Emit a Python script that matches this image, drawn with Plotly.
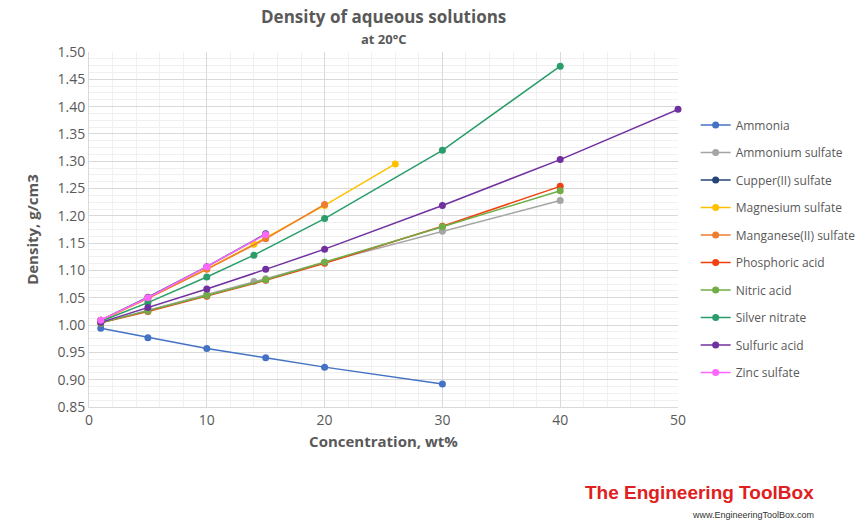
import plotly.graph_objects as go

names = ["Ammonia","Ammonium sulfate","Cupper(II) sulfate","Magnesium sulfate","Manganese(II) sulfate",
         "Phosphoric acid","Nitric acid","Silver nitrate","Sulfuric acid","Zinc sulfate"]
colors = ["#4472C4","#A5A5A5","#264478","#FFC000","#ED7D31","#F2400F","#70AD47","#2A9D6A","#7030A0","#FF66FF"]
xs = [
 [1,5,10,15,20,30],
 [1,5,10,14,15,20,30,40],
 [1,5,10,15],
 [1,5,10,14,20,26],
 [1,5,10,15,20],
 [1,5,10,15,20,30,40],
 [1,5,10,15,20,30,40],
 [1,5,10,14,20,30,40],
 [1,5,10,15,20,30,40,50],
 [1,5,10,15],
]
ys = [
 [0.994,0.977,0.957,0.940,0.923,0.892],
 [1.004,1.027,1.057,1.080,1.085,1.115,1.172,1.228],
 [1.009,1.051,1.107,1.167],
 [1.008,1.049,1.103,1.148,1.219,1.295],
 [1.009,1.049,1.102,1.158,1.221],
 [1.004,1.025,1.053,1.082,1.113,1.181,1.254],
 [1.004,1.026,1.054,1.083,1.115,1.180,1.246],
 [1.007,1.041,1.088,1.128,1.195,1.320,1.474],
 [1.005,1.032,1.066,1.102,1.139,1.219,1.303,1.395],
 [1.009,1.050,1.107,1.166],
]

fig = go.Figure()
for i,(n,c,x,y) in enumerate(zip(names,colors,xs,ys)):
    fig.add_trace(go.Scatter(x=x,y=y,name=n,mode="lines+markers",legendgroup=str(i),
        line=dict(color=c,width=1.5),marker=dict(color=c,size=7),cliponaxis=False))

fig.update_layout(
    width=865,height=523,paper_bgcolor="white",plot_bgcolor="white",
    font=dict(family="Open Sans, Arial",color="#595959",size=13),
    margin=dict(l=81,r=186,t=44,b=124),
    xaxis=dict(range=[0,50],dtick=10,showgrid=True,gridcolor="#D9D9D9",
               minor=dict(dtick=2,showgrid=True,gridcolor="#F0F0F0"),
               zeroline=False,showline=True,linecolor="#D9D9D9",ticks="",
               title=dict(text="<b>Concentration, wt%</b>",font=dict(size=15),standoff=8),tickfont=dict(size=14)),
    yaxis=dict(range=[0.85,1.5],dtick=0.05,tickformat=".2f",showgrid=True,gridcolor="#D9D9D9",
               minor=dict(dtick=0.0125,showgrid=True,gridcolor="#F0F0F0"),
               zeroline=False,showline=True,linecolor="#D9D9D9",
               title=dict(text="<b>Density, g/cm3</b>",font=dict(size=15)),tickfont=dict(size=14)),
    legend=dict(x=1.03,y=0.835,yanchor="top",font=dict(size=12,color="#595959"),tracegroupgap=8.5,
                traceorder="grouped"),
)
fig.add_annotation(text="<b>Density of aqueous solutions</b>",xref="paper",yref="paper",x=0.5,y=1.0,
    yshift=22,yanchor="bottom",showarrow=False,font=dict(size=17,color="#595959"))
fig.add_annotation(text="<b>at 20°C</b>",xref="paper",yref="paper",x=0.5,y=1.0,
    yshift=2,yanchor="bottom",showarrow=False,font=dict(size=13,color="#595959"))
fig.add_annotation(text="<b>The Engineering ToolBox</b>",xref="paper",yref="paper",x=1.235,y=-0.275,
    xanchor="right",showarrow=False,font=dict(family="Liberation Sans",size=19,color="#E02020"))
fig.add_annotation(text="www.EngineeringToolBox.com",xref="paper",yref="paper",x=1.235,y=-0.325,
    xanchor="right",showarrow=False,font=dict(family="Liberation Sans",size=9,color="#333"))
fig.write_html("out.html")
